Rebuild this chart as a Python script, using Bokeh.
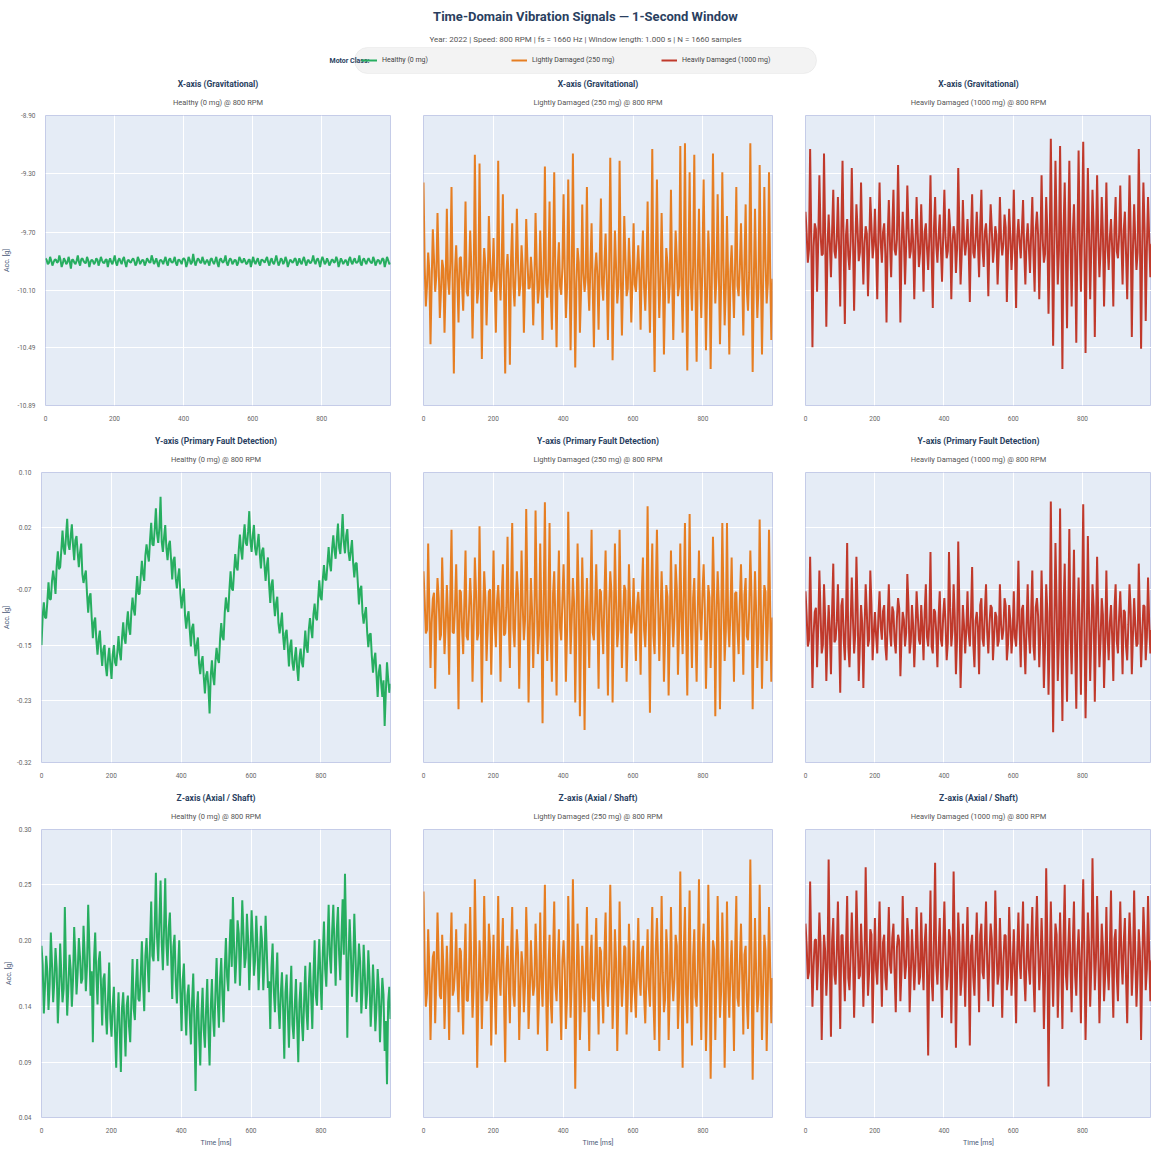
import numpy as np
from bokeh.plotting import figure
from bokeh.layouts import column, row
from bokeh.models import (Range1d, FixedTicker, PrintfTickFormatter, Title, Legend,
                          LegendItem, Label, BoxAnnotation)
from bokeh.embed import file_html
from bokeh.resources import INLINE

# ---------------- data (read / estimated from the reference picture) ----------------
WINDOW_MS = 999.4
class_names = ["Healthy (0 mg)", "Lightly Damaged (250 mg)", "Heavily Damaged (1000 mg)"]
class_colors = ["#27ae60", "#e67e22", "#c0392b"]
axis_titles = ["X-axis (Gravitational)", "Y-axis (Primary Fault Detection)", "Z-axis (Axial / Shaft)"]
speed_rpm = 800

x_ticks = [0, 200, 400, 600, 800]
y_ticks_x = [-10.89, -10.49, -10.10, -9.70, -9.30, -8.90]
y_ticks_y = [-0.32, -0.23, -0.15, -0.07, 0.02, 0.10]
y_ticks_z = [0.04, 0.09, 0.14, 0.20, 0.25, 0.30]

# each signal: "peak" samples (excursions) and "mid" samples (the dense core in between)
acc_x_healthy = [
    -9.88, -9.92, -9.87, -9.93, -9.89, -9.91, -9.86, -9.94, -9.88, -9.92,
    -9.87, -9.95, -9.89, -9.92, -9.86, -9.93, -9.88, -9.91, -9.87, -9.94,
    -9.89, -9.92, -9.88, -9.93, -9.87, -9.91, -9.89, -9.94, -9.88, -9.92,
    -9.86, -9.93, -9.88, -9.92, -9.87, -9.94, -9.89, -9.91, -9.88, -9.93,
    -9.87, -9.92, -9.89, -9.93, -9.88, -9.91, -9.86, -9.92, -9.88, -9.94,
    -9.89, -9.92, -9.87, -9.93, -9.88, -9.91, -9.87, -9.93, -9.89, -9.92,
    -9.88, -9.94, -9.87, -9.92, -9.85, -9.93, -9.88, -9.91, -9.87, -9.92,
    -9.89, -9.93, -9.88, -9.92, -9.87, -9.94, -9.88, -9.91, -9.86, -9.93,
    -9.88, -9.92, -9.89, -9.93, -9.87, -9.91, -9.88, -9.92, -9.89, -9.94,
    -9.87, -9.92, -9.88, -9.93, -9.89, -9.91, -9.87, -9.93, -9.88, -9.92,
    -9.86, -9.93, -9.88, -9.92, -9.87, -9.94, -9.89, -9.91, -9.88, -9.93,
    -9.88, -9.92, -9.87, -9.93, -9.89, -9.91, -9.86, -9.92, -9.88, -9.94,
    -9.87, -9.92, -9.88, -9.93, -9.89, -9.91, -9.87, -9.94, -9.88, -9.92,
    -9.89, -9.93, -9.87, -9.92, -9.88, -9.91, -9.86, -9.93, -9.88, -9.92,
    -9.88, -9.91, -9.87, -9.93, -9.89, -9.92, -9.88, -9.94, -9.87, -9.92,
]
acc_x_healthy_mid = [
    -9.892, -9.911, -9.897, -9.906, -9.888, -9.902, -9.891, -9.914, -9.896, -9.908,
    -9.903, -9.889, -9.910, -9.895, -9.907, -9.886, -9.899, -9.912, -9.893, -9.905,
    -9.897, -9.909, -9.890, -9.904, -9.894, -9.913, -9.888, -9.901, -9.906, -9.892,
    -9.908, -9.895, -9.902, -9.887, -9.911, -9.898, -9.905, -9.891, -9.899, -9.914,
    -9.890, -9.904, -9.896, -9.910, -9.893, -9.907, -9.886, -9.902, -9.912, -9.897,
    -9.901, -9.893, -9.908, -9.889, -9.905, -9.896, -9.913, -9.892, -9.903, -9.887,
    -9.894, -9.912, -9.891, -9.907, -9.899, -9.904, -9.889, -9.910, -9.895, -9.906,
    -9.906, -9.888, -9.903, -9.897, -9.914, -9.890, -9.902, -9.893, -9.909, -9.898,
    -9.891, -9.907, -9.894, -9.911, -9.887, -9.905, -9.898, -9.913, -9.890, -9.903,
    -9.904, -9.896, -9.912, -9.892, -9.900, -9.888, -9.907, -9.895, -9.910, -9.893,
    -9.898, -9.910, -9.889, -9.905, -9.893, -9.914, -9.896, -9.902, -9.887, -9.909,
    -9.907, -9.891, -9.904, -9.898, -9.912, -9.894, -9.901, -9.889, -9.906, -9.895,
    -9.893, -9.908, -9.899, -9.913, -9.890, -9.903, -9.892, -9.911, -9.897, -9.905,
    -9.905, -9.887, -9.906, -9.894, -9.909, -9.899, -9.914, -9.891, -9.902, -9.896,
    -9.896, -9.913, -9.892, -9.908, -9.895, -9.901, -9.888, -9.907, -9.893, -9.910,
]
acc_x_light = [
    -9.36, -10.21, -9.84, -10.47, -9.68, -10.11, -9.57, -10.29, -9.89, -10.39,
    -9.54, -10.13, -9.39, -10.67, -9.79, -10.32, -9.87, -10.24, -9.49, -10.14,
    -9.69, -10.43, -9.17, -10.19, -9.23, -10.57, -9.81, -10.34, -9.59, -10.11,
    -9.74, -10.39, -9.21, -10.17, -9.44, -10.67, -9.85, -10.61, -9.64, -10.21,
    -9.54, -10.14, -9.79, -10.39, -9.61, -10.09, -9.87, -10.34, -9.57, -10.19,
    -9.69, -10.44, -9.25, -10.15, -9.49, -10.37, -9.29, -10.49, -9.77, -10.13,
    -9.44, -10.29, -9.34, -10.51, -9.16, -10.63, -9.81, -10.39, -9.51, -10.11,
    -9.39, -10.24, -9.64, -10.49, -9.84, -10.37, -9.47, -10.17, -9.71, -10.44,
    -9.19, -10.58, -9.69, -10.19, -9.21, -10.41, -9.59, -10.14, -9.74, -10.32,
    -9.64, -10.11, -9.79, -10.37, -9.69, -10.24, -9.49, -10.39, -9.13, -10.66,
    -9.34, -10.29, -9.57, -10.54, -9.81, -10.19, -9.41, -10.44, -9.69, -10.14,
    -9.11, -10.39, -9.09, -10.65, -9.29, -10.24, -9.17, -10.59, -9.54, -10.29,
    -9.34, -10.51, -9.69, -10.64, -9.16, -10.19, -9.44, -10.47, -9.29, -10.34,
    -9.59, -10.54, -9.79, -10.29, -9.39, -10.14, -9.64, -10.41, -9.51, -10.24,
    -9.09, -10.66, -9.54, -10.29, -9.24, -10.54, -9.39, -10.19, -9.29, -10.44,
]
acc_x_light_mid = [
    -9.93, -10.07, -9.97, -10.04, -9.89, -10.00, -9.92, -10.10, -9.95, -10.05,
    -10.02, -9.91, -10.08, -9.96, -10.03, -9.88, -10.06, -9.94, -10.11, -9.98,
    -9.95, -10.04, -9.90, -10.09, -9.98, -10.01, -9.93, -10.06, -9.87, -10.03,
    -10.05, -9.94, -10.00, -9.92, -10.10, -9.97, -10.02, -9.89, -10.07, -9.96,
    -9.91, -10.06, -9.95, -10.03, -9.88, -10.08, -9.99, -10.04, -9.93, -10.09,
    -10.00, -9.92, -10.05, -9.97, -10.11, -9.90, -10.03, -9.95, -10.07, -9.94,
    -9.96, -10.08, -9.89, -10.02, -9.94, -10.05, -9.91, -10.10, -9.98, -10.01,
    -10.04, -9.93, -10.09, -9.96, -10.00, -9.88, -10.06, -9.92, -10.03, -9.97,
    -9.90, -10.05, -9.94, -10.07, -9.97, -10.02, -9.88, -10.09, -9.95, -10.04,
    -10.06, -9.95, -10.01, -9.91, -10.08, -9.98, -10.04, -9.93, -10.10, -9.89,
    -9.94, -10.03, -9.97, -10.10, -9.92, -10.06, -9.99, -10.02, -9.88, -10.07,
    -10.01, -9.90, -10.07, -9.95, -10.04, -9.93, -10.09, -9.97, -10.02, -9.91,
    -9.97, -10.09, -9.92, -10.04, -9.89, -10.01, -9.95, -10.06, -9.93, -10.08,
    -10.03, -9.96, -10.05, -9.90, -10.07, -9.94, -10.00, -9.91, -10.10, -9.98,
    -9.92, -10.04, -9.98, -10.08, -9.95, -10.03, -9.90, -10.05, -9.96, -10.02,
]
acc_x_heavy = [
    -9.56, -9.91, -9.13, -10.49, -9.64, -10.11, -9.31, -9.86, -9.16, -10.35,
    -9.58, -10.01, -9.41, -9.88, -9.46, -10.21, -9.21, -10.33, -9.61, -9.96,
    -9.26, -10.24, -9.51, -9.90, -9.36, -10.06, -9.66, -10.14, -9.46, -9.88,
    -9.54, -10.16, -9.36, -9.91, -9.64, -10.32, -9.48, -10.01, -9.41, -9.86,
    -9.24, -10.32, -9.56, -10.06, -9.38, -9.88, -9.61, -10.16, -9.46, -9.94,
    -9.51, -10.11, -9.64, -9.96, -9.31, -10.22, -9.46, -9.91, -9.58, -10.04,
    -9.41, -9.88, -9.54, -10.16, -9.66, -9.98, -9.26, -10.06, -9.48, -9.86,
    -9.61, -10.18, -9.44, -9.88, -9.56, -10.01, -9.41, -9.94, -9.64, -10.14,
    -9.51, -9.91, -9.66, -10.06, -9.46, -9.86, -9.58, -10.18, -9.54, -9.96,
    -9.41, -10.22, -9.61, -9.88, -9.48, -10.06, -9.64, -9.98, -9.46, -10.11,
    -9.56, -10.16, -9.31, -9.91, -9.46, -10.26, -9.06, -10.48, -9.21, -10.06,
    -9.11, -10.64, -9.36, -10.36, -9.21, -10.21, -9.51, -10.46, -9.14, -10.11,
    -9.08, -10.53, -9.26, -10.16, -9.41, -10.42, -9.31, -10.01, -9.46, -10.21,
    -9.36, -9.96, -9.61, -10.21, -9.46, -9.88, -9.38, -10.06, -9.56, -10.16,
    -9.31, -10.42, -9.51, -9.96, -9.13, -10.50, -9.36, -10.31, -9.46, -10.01,
]
acc_x_heavy_mid = [
    -9.71, -9.82, -9.74, -9.80, -9.68, -9.77, -9.70, -9.85, -9.73, -9.81,
    -9.78, -9.69, -9.83, -9.75, -9.79, -9.67, -9.81, -9.72, -9.86, -9.76,
    -9.73, -9.80, -9.68, -9.84, -9.76, -9.78, -9.71, -9.82, -9.66, -9.79,
    -9.81, -9.72, -9.77, -9.70, -9.85, -9.74, -9.78, -9.68, -9.82, -9.75,
    -9.69, -9.81, -9.73, -9.79, -9.67, -9.83, -9.76, -9.80, -9.71, -9.84,
    -9.77, -9.70, -9.81, -9.74, -9.86, -9.68, -9.79, -9.73, -9.82, -9.72,
    -9.74, -9.83, -9.67, -9.78, -9.72, -9.81, -9.69, -9.85, -9.75, -9.77,
    -9.80, -9.71, -9.84, -9.74, -9.77, -9.66, -9.82, -9.70, -9.79, -9.75,
    -9.68, -9.81, -9.72, -9.83, -9.75, -9.78, -9.67, -9.84, -9.73, -9.80,
    -9.82, -9.73, -9.77, -9.69, -9.83, -9.76, -9.80, -9.71, -9.85, -9.67,
    -9.72, -9.79, -9.75, -9.85, -9.70, -9.82, -9.76, -9.78, -9.66, -9.83,
    -9.77, -9.68, -9.83, -9.73, -9.80, -9.71, -9.84, -9.75, -9.78, -9.69,
    -9.75, -9.84, -9.70, -9.80, -9.67, -9.77, -9.73, -9.82, -9.71, -9.83,
    -9.79, -9.74, -9.81, -9.68, -9.83, -9.72, -9.76, -9.69, -9.85, -9.76,
    -9.70, -9.80, -9.76, -9.84, -9.73, -9.79, -9.68, -9.81, -9.74, -9.78,
]
acc_y_healthy = [
    -0.150, -0.088, -0.111, -0.059, -0.084, -0.042, -0.076, -0.014, -0.037, 0.016,
    -0.019, 0.033, -0.012, 0.025, -0.027, 0.008, -0.037, -0.003, -0.060, -0.042,
    -0.103, -0.075, -0.140, -0.110, -0.164, -0.129, -0.180, -0.150, -0.195, -0.154,
    -0.199, -0.150, -0.180, -0.137, -0.172, -0.117, -0.148, -0.101, -0.135, -0.081,
    -0.107, -0.050, -0.076, -0.028, -0.057, -0.004, -0.029, 0.027, -0.006, 0.048,
    -0.002, 0.065, -0.015, 0.024, -0.027, 0.001, -0.055, -0.022, -0.068, -0.039,
    -0.097, -0.068, -0.126, -0.101, -0.152, -0.119, -0.166, -0.139, -0.192, -0.166,
    -0.220, -0.188, -0.249, -0.172, -0.208, -0.154, -0.176, -0.118, -0.143, -0.081,
    -0.102, -0.043, -0.071, -0.018, -0.042, 0.010, -0.026, 0.025, -0.006, 0.044,
    -0.015, 0.024, -0.020, 0.011, -0.039, -0.009, -0.057, -0.023, -0.089, -0.055,
    -0.108, -0.080, -0.133, -0.103, -0.157, -0.128, -0.181, -0.142, -0.187, -0.153,
    -0.202, -0.155, -0.182, -0.129, -0.161, -0.111, -0.140, -0.090, -0.114, -0.056,
    -0.085, -0.034, -0.056, -0.008, -0.043, 0.009, -0.025, 0.026, -0.018, 0.040,
    -0.017, 0.018, -0.028, 0.002, -0.052, -0.031, -0.091, -0.064, -0.119, -0.095,
    -0.153, -0.133, -0.190, -0.161, -0.225, -0.178, -0.225, -0.267, -0.175, -0.219,
]
acc_y_healthy_mid = [
    -0.108, -0.110, -0.087, -0.083, -0.057, -0.056, -0.035, -0.040, -0.012, -0.010,
    0.008, -0.004, 0.007, -0.005, 0.002, -0.016, -0.016, -0.047, -0.050, -0.076,
    -0.080, -0.110, -0.117, -0.143, -0.141, -0.159, -0.156, -0.180, -0.170, -0.179,
    -0.164, -0.175, -0.159, -0.161, -0.139, -0.140, -0.120, -0.126, -0.101, -0.099,
    -0.075, -0.076, -0.052, -0.047, -0.020, -0.018, 0.003, -0.004, 0.018, 0.011,
    0.020, 0.000, 0.006, -0.010, -0.005, -0.026, -0.027, -0.053, -0.051, -0.076,
    -0.080, -0.108, -0.109, -0.128, -0.125, -0.147, -0.149, -0.177, -0.174, -0.196,
    -0.194, -0.210, -0.194, -0.196, -0.174, -0.170, -0.141, -0.138, -0.103, -0.096,
    -0.069, -0.068, -0.043, -0.037, -0.012, -0.013, 0.005, -0.002, 0.014, 0.001,
    0.009, -0.010, -0.004, -0.018, -0.013, -0.034, -0.035, -0.063, -0.062, -0.087,
    -0.089, -0.118, -0.119, -0.137, -0.133, -0.153, -0.152, -0.176, -0.168, -0.183,
    -0.169, -0.175, -0.155, -0.153, -0.128, -0.127, -0.105, -0.110, -0.083, -0.080,
    -0.055, -0.055, -0.032, -0.032, -0.010, -0.013, 0.003, -0.009, 0.007, -0.001,
    0.008, -0.015, -0.013, -0.031, -0.032, -0.060, -0.069, -0.103, -0.105, -0.131,
    -0.135, -0.166, -0.171, -0.193, -0.189, -0.205, -0.201, -0.218, -0.199, -0.206,
]
acc_y_light = [
    -0.043, -0.133, -0.003, -0.183, -0.083, -0.213, -0.053, -0.143, -0.023, -0.163,
    -0.063, -0.193, 0.017, -0.133, -0.033, -0.243, -0.073, -0.163, -0.013, -0.143,
    -0.053, -0.203, -0.023, -0.143, 0.022, -0.233, -0.043, -0.173, -0.073, -0.193,
    -0.013, -0.153, -0.063, -0.203, -0.033, -0.133, 0.007, -0.183, 0.027, -0.153,
    -0.043, -0.213, -0.013, -0.143, 0.047, -0.233, -0.053, -0.183, 0.045, -0.163,
    -0.003, -0.263, 0.057, -0.173, 0.027, -0.203, -0.043, -0.223, -0.013, -0.143,
    -0.033, -0.203, 0.043, -0.163, -0.053, -0.233, -0.003, -0.253, -0.023, -0.273,
    -0.053, -0.183, 0.017, -0.143, -0.033, -0.213, -0.073, -0.163, -0.013, -0.223,
    -0.043, -0.233, -0.003, -0.153, 0.017, -0.183, -0.063, -0.203, -0.033, -0.133,
    -0.053, -0.173, -0.073, -0.193, -0.023, -0.153, 0.051, -0.248, -0.003, -0.163,
    0.017, -0.173, -0.043, -0.203, -0.063, -0.223, -0.013, -0.153, -0.033, -0.193,
    -0.003, -0.163, 0.027, -0.223, 0.040, -0.183, -0.053, -0.203, -0.013, -0.143,
    -0.033, -0.213, -0.063, -0.183, 0.007, -0.253, -0.043, -0.243, 0.027, -0.173,
    0.027, -0.153, -0.023, -0.203, -0.073, -0.163, -0.033, -0.193, -0.053, -0.143,
    -0.013, -0.243, -0.043, -0.183, 0.032, -0.213, -0.063, -0.173, 0.017, -0.203,
]
acc_y_light_mid = [
    -0.085, -0.128, -0.096, -0.117, -0.074, -0.106, -0.082, -0.135, -0.092, -0.121,
    -0.110, -0.078, -0.131, -0.094, -0.113, -0.070, -0.124, -0.088, -0.137, -0.101,
    -0.092, -0.119, -0.073, -0.133, -0.099, -0.108, -0.081, -0.126, -0.069, -0.115,
    -0.118, -0.087, -0.104, -0.079, -0.136, -0.095, -0.112, -0.072, -0.127, -0.090,
    -0.076, -0.123, -0.093, -0.114, -0.071, -0.129, -0.100, -0.116, -0.083, -0.134,
    -0.106, -0.080, -0.121, -0.097, -0.138, -0.075, -0.115, -0.091, -0.125, -0.086,
    -0.098, -0.130, -0.072, -0.111, -0.089, -0.122, -0.077, -0.134, -0.102, -0.107,
    -0.114, -0.084, -0.132, -0.095, -0.105, -0.069, -0.124, -0.079, -0.113, -0.098,
    -0.073, -0.119, -0.088, -0.127, -0.099, -0.110, -0.070, -0.133, -0.094, -0.116,
    -0.121, -0.093, -0.107, -0.076, -0.128, -0.101, -0.115, -0.083, -0.136, -0.071,
    -0.087, -0.112, -0.100, -0.135, -0.080, -0.123, -0.104, -0.109, -0.068, -0.126,
    -0.108, -0.074, -0.129, -0.091, -0.117, -0.082, -0.131, -0.097, -0.111, -0.078,
    -0.096, -0.134, -0.081, -0.118, -0.072, -0.106, -0.090, -0.125, -0.085, -0.130,
    -0.115, -0.098, -0.120, -0.075, -0.128, -0.088, -0.103, -0.077, -0.137, -0.100,
    -0.079, -0.116, -0.101, -0.132, -0.093, -0.119, -0.073, -0.122, -0.097, -0.110,
]
acc_y_heavy = [
    -0.072, -0.152, -0.022, -0.212, -0.102, -0.182, -0.042, -0.162, -0.062, -0.202,
    -0.092, -0.192, -0.032, -0.142, -0.062, -0.219, -0.082, -0.172, -0.002, -0.182,
    -0.052, -0.162, -0.022, -0.202, -0.092, -0.212, -0.062, -0.152, -0.042, -0.172,
    -0.102, -0.162, -0.072, -0.142, -0.092, -0.172, -0.062, -0.152, -0.102, -0.162,
    -0.082, -0.195, -0.102, -0.152, -0.047, -0.162, -0.092, -0.182, -0.072, -0.142,
    -0.092, -0.172, -0.062, -0.152, -0.015, -0.162, -0.102, -0.182, -0.072, -0.152,
    -0.082, -0.172, -0.015, -0.152, -0.062, -0.192, 0.000, -0.212, -0.092, -0.162,
    -0.072, -0.152, -0.037, -0.182, -0.102, -0.192, -0.082, -0.152, -0.062, -0.162,
    -0.092, -0.172, -0.102, -0.152, -0.062, -0.142, -0.082, -0.172, -0.092, -0.162,
    -0.072, -0.152, -0.028, -0.182, -0.092, -0.192, -0.062, -0.162, -0.042, -0.172,
    -0.082, -0.182, -0.042, -0.212, -0.062, -0.222, 0.058, -0.276, -0.002, -0.202,
    0.048, -0.260, -0.032, -0.232, 0.018, -0.192, -0.012, -0.242, -0.052, -0.222,
    0.054, -0.256, 0.008, -0.202, -0.062, -0.232, -0.022, -0.182, -0.082, -0.212,
    -0.042, -0.172, -0.092, -0.202, -0.062, -0.162, -0.072, -0.192, -0.102, -0.172,
    -0.062, -0.192, -0.082, -0.152, -0.032, -0.182, -0.092, -0.172, -0.052, -0.162,
]
acc_y_heavy_mid = [
    -0.107, -0.143, -0.114, -0.134, -0.096, -0.125, -0.104, -0.150, -0.112, -0.138,
    -0.128, -0.099, -0.146, -0.116, -0.131, -0.093, -0.141, -0.109, -0.152, -0.120,
    -0.112, -0.135, -0.095, -0.148, -0.119, -0.127, -0.103, -0.142, -0.092, -0.133,
    -0.136, -0.108, -0.123, -0.101, -0.151, -0.115, -0.130, -0.094, -0.144, -0.111,
    -0.097, -0.139, -0.113, -0.132, -0.094, -0.145, -0.121, -0.134, -0.105, -0.149,
    -0.125, -0.102, -0.138, -0.117, -0.152, -0.098, -0.133, -0.111, -0.142, -0.107,
    -0.118, -0.146, -0.095, -0.129, -0.110, -0.140, -0.099, -0.150, -0.122, -0.126,
    -0.132, -0.106, -0.148, -0.115, -0.124, -0.092, -0.141, -0.101, -0.131, -0.119,
    -0.096, -0.137, -0.109, -0.144, -0.120, -0.128, -0.093, -0.149, -0.114, -0.134,
    -0.139, -0.113, -0.126, -0.098, -0.145, -0.121, -0.133, -0.104, -0.151, -0.095,
    -0.108, -0.130, -0.120, -0.150, -0.102, -0.141, -0.124, -0.127, -0.092, -0.143,
    -0.127, -0.097, -0.146, -0.111, -0.135, -0.104, -0.148, -0.117, -0.129, -0.100,
    -0.116, -0.149, -0.103, -0.136, -0.095, -0.125, -0.110, -0.142, -0.106, -0.147,
    -0.133, -0.118, -0.137, -0.097, -0.144, -0.109, -0.122, -0.099, -0.152, -0.120,
    -0.100, -0.134, -0.121, -0.148, -0.113, -0.137, -0.094, -0.139, -0.117, -0.128,
]
acc_z_healthy = [
    0.195, 0.134, 0.186, 0.137, 0.207, 0.144, 0.193, 0.125, 0.197, 0.144,
    0.230, 0.132, 0.187, 0.140, 0.212, 0.151, 0.202, 0.161, 0.213, 0.154,
    0.232, 0.150, 0.108, 0.207, 0.142, 0.190, 0.123, 0.170, 0.115, 0.180,
    0.113, 0.158, 0.085, 0.153, 0.081, 0.153, 0.095, 0.150, 0.108, 0.183,
    0.128, 0.183, 0.145, 0.199, 0.136, 0.202, 0.153, 0.235, 0.181, 0.261,
    0.181, 0.254, 0.173, 0.256, 0.177, 0.225, 0.147, 0.205, 0.143, 0.200,
    0.118, 0.179, 0.114, 0.160, 0.106, 0.170, 0.064, 0.154, 0.087, 0.157,
    0.103, 0.165, 0.087, 0.165, 0.113, 0.184, 0.121, 0.184, 0.126, 0.202,
    0.154, 0.219, 0.239, 0.161, 0.218, 0.159, 0.236, 0.175, 0.224, 0.155,
    0.227, 0.168, 0.222, 0.155, 0.213, 0.155, 0.222, 0.157, 0.120, 0.197,
    0.135, 0.189, 0.120, 0.171, 0.093, 0.169, 0.103, 0.177, 0.111, 0.165,
    0.090, 0.162, 0.109, 0.177, 0.119, 0.180, 0.120, 0.200, 0.141, 0.201,
    0.137, 0.217, 0.158, 0.232, 0.170, 0.232, 0.159, 0.230, 0.164, 0.237,
    0.260, 0.112, 0.219, 0.149, 0.224, 0.144, 0.197, 0.134, 0.196, 0.138,
    0.191, 0.122, 0.178, 0.118, 0.174, 0.108, 0.166, 0.100, 0.070, 0.158,
]
acc_z_healthy_mid = [
    0.178, 0.158, 0.172, 0.160, 0.179, 0.163, 0.175, 0.152, 0.169, 0.156,
    0.174, 0.157, 0.174, 0.164, 0.185, 0.171, 0.185, 0.165, 0.187, 0.177,
    0.194, 0.172, 0.183, 0.168, 0.181, 0.159, 0.165, 0.136, 0.148, 0.129,
    0.141, 0.117, 0.128, 0.118, 0.139, 0.126, 0.141, 0.122, 0.146, 0.138,
    0.161, 0.147, 0.167, 0.162, 0.186, 0.177, 0.199, 0.186, 0.212, 0.202,
    0.218, 0.198, 0.211, 0.197, 0.211, 0.188, 0.194, 0.164, 0.174, 0.153,
    0.164, 0.141, 0.150, 0.132, 0.145, 0.125, 0.136, 0.114, 0.132, 0.119,
    0.137, 0.120, 0.138, 0.130, 0.153, 0.145, 0.165, 0.150, 0.174, 0.167,
    0.190, 0.176, 0.194, 0.185, 0.206, 0.192, 0.207, 0.184, 0.201, 0.186,
    0.202, 0.182, 0.195, 0.182, 0.199, 0.181, 0.191, 0.163, 0.175, 0.155,
    0.165, 0.141, 0.152, 0.138, 0.153, 0.136, 0.148, 0.124, 0.141, 0.126,
    0.144, 0.127, 0.145, 0.136, 0.159, 0.150, 0.168, 0.150, 0.174, 0.165,
    0.188, 0.174, 0.194, 0.187, 0.208, 0.195, 0.210, 0.187, 0.203, 0.187,
    0.203, 0.181, 0.191, 0.175, 0.189, 0.170, 0.181, 0.155, 0.170, 0.153,
    0.167, 0.144, 0.155, 0.139, 0.156, 0.139, 0.151, 0.127, 0.144, 0.129,
]
acc_z_light = [
    0.244, 0.140, 0.210, 0.110, 0.185, 0.125, 0.225, 0.150, 0.205, 0.120,
    0.195, 0.110, 0.225, 0.155, 0.210, 0.135, 0.190, 0.115, 0.215, 0.145,
    0.230, 0.130, 0.255, 0.085, 0.200, 0.120, 0.240, 0.145, 0.215, 0.105,
    0.205, 0.115, 0.240, 0.150, 0.220, 0.090, 0.195, 0.125, 0.230, 0.140,
    0.210, 0.110, 0.190, 0.135, 0.230, 0.120, 0.200, 0.150, 0.215, 0.115,
    0.225, 0.140, 0.250, 0.100, 0.205, 0.125, 0.235, 0.145, 0.210, 0.110,
    0.200, 0.120, 0.240, 0.130, 0.255, 0.066, 0.215, 0.110, 0.195, 0.135,
    0.230, 0.100, 0.205, 0.145, 0.220, 0.115, 0.190, 0.125, 0.225, 0.140,
    0.250, 0.120, 0.210, 0.100, 0.235, 0.140, 0.195, 0.115, 0.215, 0.135,
    0.200, 0.130, 0.220, 0.150, 0.195, 0.125, 0.210, 0.140, 0.230, 0.110,
    0.220, 0.100, 0.240, 0.135, 0.210, 0.110, 0.230, 0.145, 0.205, 0.120,
    0.262, 0.085, 0.230, 0.125, 0.245, 0.105, 0.210, 0.140, 0.255, 0.110,
    0.215, 0.100, 0.250, 0.075, 0.200, 0.110, 0.240, 0.130, 0.225, 0.085,
    0.235, 0.130, 0.200, 0.100, 0.240, 0.140, 0.215, 0.115, 0.195, 0.120,
    0.273, 0.074, 0.220, 0.135, 0.250, 0.110, 0.205, 0.100, 0.230, 0.125,
]
acc_z_light_mid = [
    0.182, 0.152, 0.175, 0.160, 0.190, 0.167, 0.184, 0.147, 0.177, 0.157,
    0.163, 0.186, 0.150, 0.174, 0.165, 0.193, 0.155, 0.180, 0.146, 0.171,
    0.177, 0.158, 0.189, 0.149, 0.172, 0.164, 0.185, 0.153, 0.194, 0.161,
    0.156, 0.179, 0.168, 0.187, 0.146, 0.175, 0.162, 0.191, 0.151, 0.180,
    0.188, 0.155, 0.176, 0.161, 0.192, 0.150, 0.170, 0.159, 0.183, 0.148,
    0.166, 0.187, 0.154, 0.173, 0.145, 0.190, 0.160, 0.178, 0.152, 0.181,
    0.174, 0.149, 0.191, 0.163, 0.179, 0.154, 0.186, 0.147, 0.168, 0.171,
    0.159, 0.183, 0.148, 0.176, 0.167, 0.194, 0.153, 0.188, 0.162, 0.172,
    0.190, 0.157, 0.181, 0.151, 0.170, 0.164, 0.193, 0.148, 0.178, 0.160,
    0.153, 0.177, 0.166, 0.189, 0.150, 0.169, 0.158, 0.184, 0.146, 0.192,
    0.181, 0.162, 0.171, 0.147, 0.186, 0.155, 0.167, 0.165, 0.195, 0.152,
    0.165, 0.191, 0.151, 0.178, 0.158, 0.185, 0.149, 0.175, 0.163, 0.188,
    0.173, 0.147, 0.184, 0.160, 0.192, 0.168, 0.179, 0.154, 0.182, 0.150,
    0.160, 0.174, 0.156, 0.190, 0.148, 0.180, 0.169, 0.187, 0.146, 0.170,
    0.187, 0.161, 0.172, 0.151, 0.176, 0.159, 0.191, 0.157, 0.175, 0.166,
]
acc_z_heavy = [
    0.215, 0.165, 0.253, 0.140, 0.200, 0.155, 0.225, 0.110, 0.205, 0.150,
    0.273, 0.113, 0.220, 0.160, 0.235, 0.120, 0.205, 0.145, 0.240, 0.155,
    0.225, 0.130, 0.245, 0.165, 0.215, 0.140, 0.266, 0.150, 0.210, 0.125,
    0.220, 0.160, 0.235, 0.140, 0.205, 0.155, 0.230, 0.170, 0.215, 0.135,
    0.205, 0.145, 0.240, 0.165, 0.220, 0.135, 0.210, 0.155, 0.230, 0.160,
    0.225, 0.155, 0.215, 0.096, 0.245, 0.145, 0.270, 0.160, 0.220, 0.130,
    0.235, 0.155, 0.210, 0.125, 0.262, 0.103, 0.225, 0.150, 0.215, 0.140,
    0.230, 0.105, 0.205, 0.150, 0.225, 0.135, 0.215, 0.165, 0.235, 0.145,
    0.215, 0.140, 0.245, 0.160, 0.220, 0.130, 0.205, 0.155, 0.230, 0.150,
    0.210, 0.125, 0.225, 0.165, 0.235, 0.145, 0.215, 0.160, 0.230, 0.135,
    0.240, 0.155, 0.220, 0.120, 0.265, 0.068, 0.235, 0.140, 0.215, 0.130,
    0.225, 0.120, 0.250, 0.155, 0.220, 0.135, 0.235, 0.150, 0.210, 0.125,
    0.255, 0.110, 0.225, 0.140, 0.274, 0.155, 0.240, 0.125, 0.215, 0.145,
    0.230, 0.155, 0.245, 0.130, 0.210, 0.145, 0.235, 0.160, 0.220, 0.125,
    0.225, 0.150, 0.245, 0.140, 0.210, 0.110, 0.230, 0.155, 0.240, 0.145,
]
acc_z_heavy_mid = [
    0.195, 0.171, 0.189, 0.177, 0.201, 0.183, 0.196, 0.167, 0.190, 0.175,
    0.180, 0.199, 0.169, 0.188, 0.182, 0.204, 0.173, 0.193, 0.166, 0.186,
    0.190, 0.176, 0.200, 0.168, 0.187, 0.179, 0.197, 0.172, 0.205, 0.178,
    0.174, 0.192, 0.183, 0.198, 0.166, 0.189, 0.178, 0.202, 0.170, 0.193,
    0.199, 0.173, 0.190, 0.178, 0.203, 0.169, 0.185, 0.177, 0.195, 0.167,
    0.182, 0.198, 0.172, 0.187, 0.165, 0.201, 0.177, 0.191, 0.171, 0.194,
    0.188, 0.168, 0.202, 0.180, 0.192, 0.172, 0.197, 0.166, 0.183, 0.186,
    0.176, 0.195, 0.167, 0.190, 0.182, 0.205, 0.171, 0.199, 0.179, 0.187,
    0.201, 0.175, 0.194, 0.169, 0.185, 0.180, 0.204, 0.167, 0.191, 0.177,
    0.171, 0.190, 0.181, 0.200, 0.169, 0.184, 0.175, 0.196, 0.166, 0.203,
    0.194, 0.178, 0.186, 0.166, 0.198, 0.172, 0.183, 0.181, 0.205, 0.170,
    0.181, 0.202, 0.169, 0.191, 0.176, 0.197, 0.168, 0.188, 0.180, 0.199,
    0.187, 0.166, 0.196, 0.177, 0.203, 0.183, 0.192, 0.172, 0.194, 0.169,
    0.177, 0.189, 0.173, 0.201, 0.167, 0.193, 0.184, 0.198, 0.166, 0.186,
    0.198, 0.178, 0.187, 0.169, 0.190, 0.176, 0.202, 0.174, 0.189, 0.182,
]

signals = [
    [(acc_x_healthy, acc_x_healthy_mid), (acc_x_light, acc_x_light_mid), (acc_x_heavy, acc_x_heavy_mid)],
    [(acc_y_healthy, acc_y_healthy_mid), (acc_y_light, acc_y_light_mid), (acc_y_heavy, acc_y_heavy_mid)],
    [(acc_z_healthy, acc_z_healthy_mid), (acc_z_light, acc_z_light_mid), (acc_z_heavy, acc_z_heavy_mid)],
]
row_ticks = [y_ticks_x, y_ticks_y, y_ticks_z]

# ---------------- styling ----------------
FONT = "Roboto"
TITLE_COLOR = "#2a3f5f"
SUB_COLOR = "#555555"
TICK_COLOR = "#666666"
BG = "#e5ecf6"
OUTLINE = "#c5cce8"

COL_W = [394, 382, 375]
COL_BORDER = [(41, 4), (29, 4), (29, 0)]
ROW_H = 357
HEADER_W = sum(COL_W)
HEADER_H = 78

# ---------------- header ----------------
header = figure(width=HEADER_W, height=HEADER_H, x_range=Range1d(0, HEADER_W),
                y_range=Range1d(0, HEADER_H), output_backend="svg", toolbar_location=None,
                x_axis_location=None, y_axis_location=None, min_border=0)
header.grid.visible = False
header.outline_line_color = None

header.add_layout(Label(x=585, y=62, text="Time-Domain Vibration Signals \u2014 1-Second Window",
                        text_align="center", text_baseline="middle", text_font=FONT,
                        text_font_size="13px", text_font_style="bold", text_color=TITLE_COLOR))
header.add_layout(Label(x=585, y=39,
                        text="Year: 2022 | Speed: 800 RPM | fs = 1660 Hz | Window length: 1.000 s | N = 1660 samples",
                        text_align="center", text_baseline="middle", text_font=FONT,
                        text_font_size="8px", text_color=SUB_COLOR))
header.add_layout(BoxAnnotation(left=354, right=816, bottom=5, top=31, fill_color="#f3f3f3",
                                fill_alpha=1.0, line_color="#d6d6d6", line_width=1, border_radius=13))
items = []
for name, col in zip(class_names, class_colors):
    r = header.line([0, 1], [np.nan, np.nan], line_color=col, line_width=2)
    items.append(LegendItem(label=name, renderers=[r]))
legend = Legend(items=items, orientation="horizontal", location=(361, 13),
                background_fill_alpha=0, border_line_color=None, padding=0, margin=0,
                glyph_width=16, glyph_height=10, label_standoff=5, label_width=121, spacing=8,
                label_text_font=FONT, label_text_font_size="7px", label_text_color="#444444",
                label_height=10)
header.add_layout(legend)
header.add_layout(Label(x=329, y=18, text="Motor Class:", text_align="left", text_baseline="middle",
                        text_font=FONT, text_font_size="7px", text_font_style="bold",
                        text_color=TITLE_COLOR))

# ---------------- panels ----------------
rows = []
for r in range(3):
    ticks = row_ticks[r]
    figs = []
    for c in range(3):
        peaks, mids = signals[r][c]
        values = np.column_stack([peaks, mids]).ravel()   # peak, core, peak, core ...
        time_ms = np.linspace(0.0, WINDOW_MS, len(values))
        left, right = COL_BORDER[c]
        p = figure(width=COL_W[c], height=ROW_H, x_range=Range1d(0, WINDOW_MS),
                   y_range=Range1d(ticks[0], ticks[-1]), output_backend="svg",
                   toolbar_location=None, min_border_left=left, min_border_right=right,
                   min_border_top=36, min_border_bottom=30)
        p.background_fill_color = BG
        p.border_fill_color = "white"
        p.outline_line_color = OUTLINE
        p.outline_line_width = 1

        p.line(time_ms, values, line_color=class_colors[c], line_width=2.0)

        p.xaxis.ticker = FixedTicker(ticks=x_ticks)
        p.xaxis.formatter = PrintfTickFormatter(format="%d")
        p.yaxis.ticker = FixedTicker(ticks=ticks)
        p.yaxis.formatter = PrintfTickFormatter(format="%.2f")
        p.xgrid.ticker = FixedTicker(ticks=x_ticks)
        p.ygrid.ticker = FixedTicker(ticks=ticks)
        p.grid.grid_line_color = "white"
        p.grid.grid_line_width = 1
        for ax in (p.xaxis[0], p.yaxis[0]):
            ax.axis_line_color = None
            ax.major_tick_line_color = None
            ax.minor_tick_line_color = None
            ax.major_label_text_font = FONT
            ax.major_label_text_font_size = "6.5px"
            ax.major_label_text_color = TICK_COLOR
            ax.major_label_standoff = 4
            ax.axis_label_text_font = FONT
            ax.axis_label_text_font_size = "7px"
            ax.axis_label_text_font_style = "normal"
            ax.axis_label_text_color = "#4a5a78"
            ax.axis_label_standoff = 3
        if c == 0:
            p.yaxis.axis_label = "Acc. [g]"
        else:
            p.yaxis.visible = False
        if r == 2:
            p.xaxis.axis_label = "Time [ms]"

        p.add_layout(Title(text=f"{class_names[c]} @ {speed_rpm} RPM", align="center",
                           vertical_align="top", text_font=FONT, text_font_size="7.5px",
                           text_font_style="normal", text_color=SUB_COLOR, standoff=14), "above")
        p.add_layout(Title(text=axis_titles[r], align="center", vertical_align="top",
                           text_font=FONT, text_font_size="8.5px", text_font_style="bold",
                           text_color=TITLE_COLOR, standoff=0), "above")
        figs.append(p)
    rows.append(row(*figs))

layout = column(header, *rows)
open("out.html", "w").write(file_html(layout, INLINE))
